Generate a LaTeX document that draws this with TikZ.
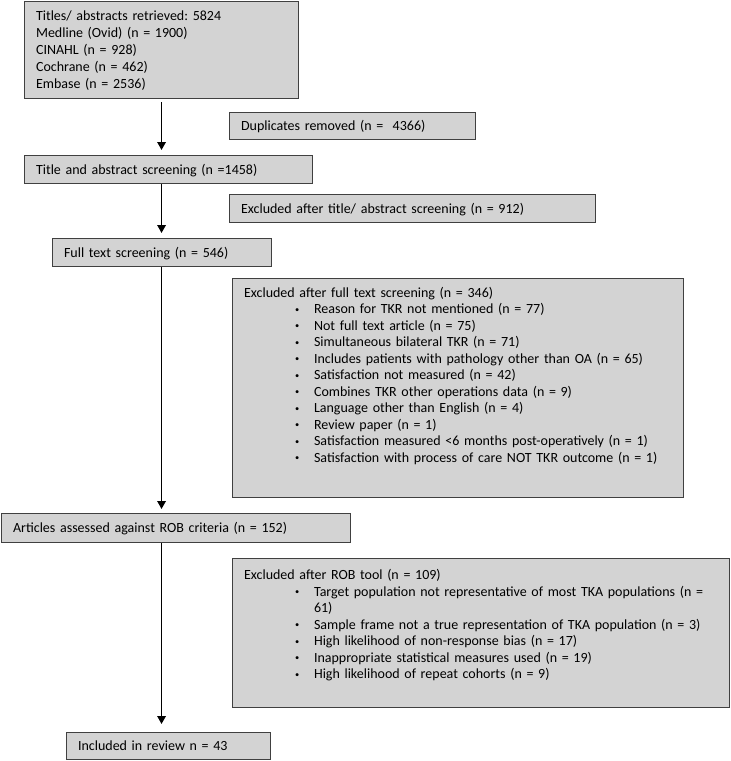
\documentclass[tikz,border=0pt]{standalone}
\usepackage{fontspec}
\setmainfont{Carlito}
\usepackage{graphicx}
\usepackage{tikz}
\definecolor{boxGray}{HTML}{D3D3D3}
\definecolor{edgeGray}{HTML}{404040}
\usetikzlibrary{arrows.meta}
\frenchspacing

\tikzset{
  stage/.style={draw=edgeGray, fill=boxGray, line width=1.1pt, anchor=north west,
    inner xsep=11.5pt, inner ysep=0pt, align=left, font=\fontsize{14}{16.5}\selectfont},
  flow/.style={line width=1.7pt, -{Triangle[width=8.5pt,length=8pt]}, shorten >=5pt},
}
\newcommand{\bitem}[1]{\hspace*{51pt}\makebox[19pt][l]{\raisebox{1.5pt}{\scalebox{0.6}{\textbullet}}}#1}

\begin{document}
\begin{tikzpicture}[x=1pt, y=-1pt]
  \useasboundingbox (0,0) rectangle (731,761);

  % main column
  \node[stage, text width=251pt, text height=18.5pt, text depth=78.5pt, font=\fontsize{14}{17}\selectfont] (srch) at (24,1)
    {Titles/ abstracts retrieved: 5824\\ Medline (Ovid) (n = 1900)\\ CINAHL (n = 928)\\ Cochrane (n = 462)\\ Embase (n = 2536)};
  \node[stage, text width=265pt, text height=18.5pt, text depth=9.5pt] (scrn) at (24,155) {Title and abstract screening (n =1458)};
  \node[stage, text width=196pt, text height=18.5pt, text depth=9.5pt] (full) at (52,238) {Full text screening (n = 546)};
  \node[stage, text width=326pt, text height=19pt, text depth=10pt] (rob) at (1,513) {Articles assessed against ROB criteria (n = 152)};
  \node[stage, text width=181pt, text height=18pt, text depth=9pt] (incl) at (66,732) {Included in review n = 43};

  % exclusions
  \node[stage, text width=223pt, text height=18pt, text depth=9pt] (dupl) at (229,112) {Duplicates removed (n =\ \ 4366)};
  \node[stage, text width=343pt, text height=18.5pt, text depth=9.5pt] (exta) at (229,194) {Excluded after title/ abstract screening (n = 912)};
  \node[stage, text width=428pt, text height=18.5pt, text depth=200.5pt] (exfl) at (232,278)
    {Excluded after full text screening (n = 346)\\
     \bitem{Reason for TKR not mentioned (n = 77)}\\
     \bitem{Not full text article (n = 75)}\\
     \bitem{Simultaneous bilateral TKR (n = 71)}\\
     \bitem{Includes patients with pathology other than OA (n = 65)}\\
     \bitem{Satisfaction not measured (n = 42)}\\
     \bitem{Combines TKR other operations data (n = 9)}\\
     \bitem{Language other than English (n = 4)}\\
     \bitem{Review paper (n = 1)}\\
     \bitem{Satisfaction measured <6 months post-operatively (n = 1)}\\
     \bitem{Satisfaction with process of care NOT TKR outcome (n = 1)}};
  \node[stage, text width=474pt, text height=21pt, text depth=128pt] (exrb) at (232,558)
    {Excluded after ROB tool (n = 109)\\
     \bitem{Target population not representative of most TKA populations (n =}\\
     \hspace*{70pt}61)\\
     \bitem{Sample frame not a true representation of TKA population (n = 3)}\\
     \bitem{High likelihood of non-response bias (n = 17)}\\
     \bitem{Inappropriate statistical measures used (n = 19)}\\
     \bitem{High likelihood of repeat cohorts (n = 9)}};

  % arrows down the left
  \coordinate (spine) at (srch.south);
  \draw[flow, shorten <=3pt] (srch.south) -- (scrn.north -| spine);
  \draw[flow] (scrn.south -| spine) -- (full.north -| spine);
  \draw[flow, shorten >=4pt] (full.south -| spine) -- (rob.north -| spine);
  \draw[flow, shorten >=8pt] (rob.south -| spine) -- (incl.north -| spine);
\end{tikzpicture}
\end{document}
